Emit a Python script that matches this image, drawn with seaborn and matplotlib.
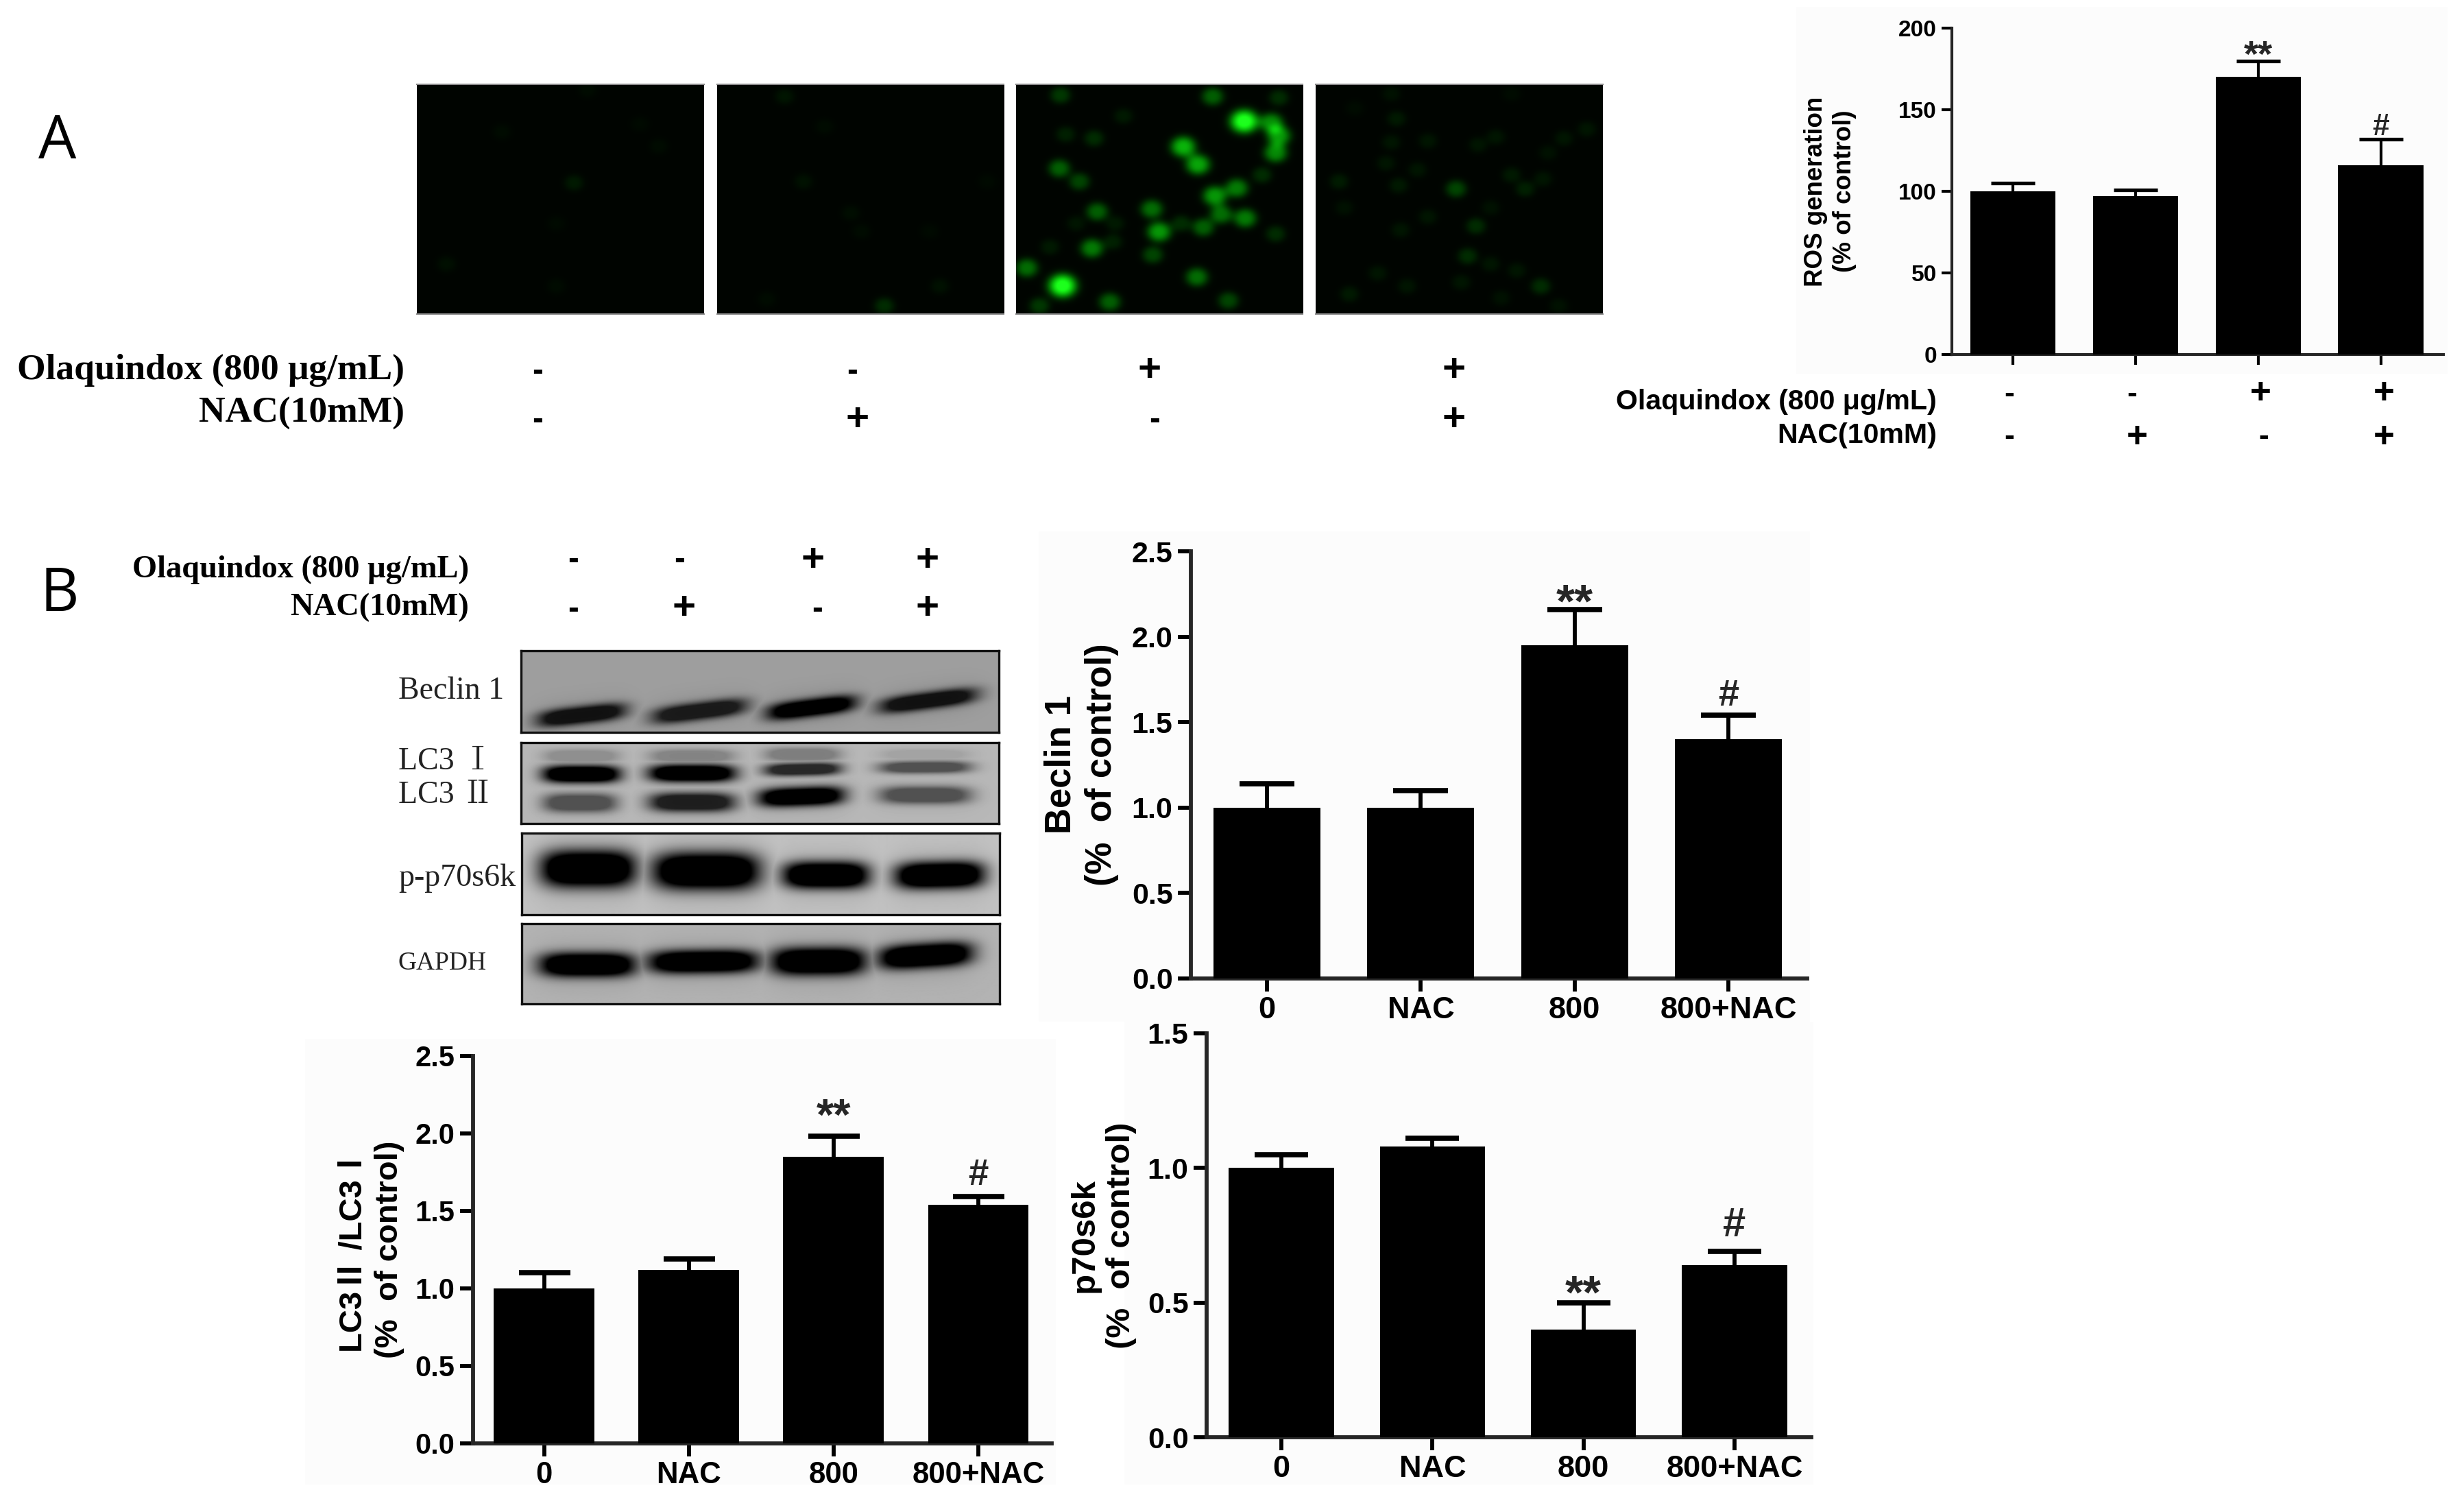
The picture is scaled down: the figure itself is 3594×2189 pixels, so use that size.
import numpy as np
import pandas as pd
import matplotlib
matplotlib.use("Agg")
import matplotlib.pyplot as plt
from matplotlib.patches import Rectangle
import seaborn as sns

# ---------- chart values ----------
categories = ["0", "NAC", "800", "800+NAC"]
ros_values = [100, 97, 170, 116]
ros_errors = [5, 4, 10, 16]
ros_marks = ["", "", "**", "#"]
beclin_values = [1.0, 1.0, 1.95, 1.40]
beclin_errors = [0.14, 0.10, 0.21, 0.14]
beclin_marks = ["", "", "**", "#"]
lc3_values = [1.0, 1.12, 1.85, 1.54]
lc3_errors = [0.10, 0.07, 0.13, 0.05]
lc3_marks = ["", "", "**", "#"]
p70_values = [1.0, 1.08, 0.40, 0.64]
p70_errors = [0.05, 0.03, 0.10, 0.05]
p70_marks = ["", "", "**", "#"]
ros_ticks = [0, 50, 100, 150, 200]
ratio_ticks = [0.0, 0.5, 1.0, 1.5, 2.0, 2.5]
p70_ticks = [0.0, 0.5, 1.0, 1.5]
olaquindox_row = ["-", "-", "+", "+"]
nac_row = ["-", "+", "-", "+"]
olaquindox_label = "Olaquindox (800 μg/mL)"
nac_label = "NAC(10mM)"

# fluorescence spots: x, y, brightness (crop units)
spots_1 = [(547,435,.12),(425,745,.07),(560,80,.05),(478,240,.05),(628,295,.05),(530,590,.04),(530,830,.05),(610,210,.04)]
spots_2 = [(747,105,.1),(765,430,.08),(842,905,.2),(785,220,.05),(810,550,.06),(895,830,.08),(730,880,.05),(820,620,.05),(885,620,.04),(940,430,.04)]
spots_3 = [(1010,100,.25),(1155,105,.4),(1218,110,.2),(1185,200,1.0),(1211,205,.55),(1218,255,.6),(1215,320,.55),
           (1127,297,.7),(1141,365,.65),(1009,380,.4),(1028,430,.3),(1157,485,.6),(1178,455,.5),(1045,545,.4),
           (1097,535,.45),(1163,555,.45),(1186,570,.5),(1146,605,.4),(1104,622,.6),(1040,685,.5),(1098,710,.3),
           (978,760,.45),(1140,795,.45),(1012,828,1.0),(1057,890,.4),(1170,885,.3),(990,905,.25),(1015,250,.15),
           (1042,265,.2),(1125,590,.2),(1060,660,.15),(1215,630,.2),(1000,680,.12),(1202,405,.2),(1070,180,.12),
           (1025,590,.1),(1062,590,.12)]
spots_4 = [(1387,458,.3),(1406,600,.2),(1398,715,.2),(1468,830,.2),(1330,190,.12),(1325,95,.08),(1275,430,.13),
           (1332,445,.12),(1453,458,.15),(1440,405,.12),(1325,280,.1),(1360,275,.1),(1408,290,.1),(1425,260,.1),
           (1490,265,.1),(1512,230,.1),(1475,320,.08),(1320,360,.1),(1350,385,.1),(1470,420,.1),(1280,530,.08),
           (1360,565,.1),(1334,615,.1),(1420,530,.08),(1420,745,.1),(1445,770,.1),(1392,815,.1),(1340,830,.1),
           (1285,860,.12),(1312,780,.1),(1430,875,.08),(1485,905,.08),(1290,150,.05),(1440,95,.05)]

# western blot bands: x0, x1, y at x0, y at x1, half thickness, darkness (crop units)
beclin_bands = [(735,885,632,600,28,.8),(930,1090,622,585,28,.75),(1125,1275,610,575,28,.95),(1315,1480,590,550,27,.8)]
lc3_bands = [(745,875,803,803,27,1.0),(925,1070,800,800,27,1.0),(1120,1250,790,785,20,.7),(1315,1470,782,780,19,.5),
             (745,870,895,895,30,.5),(925,1070,893,893,30,.75),(1110,1255,880,870,30,.95),(1315,1470,870,870,28,.5),
             (745,875,745,745,22,.2),(925,1070,745,745,22,.25),(1120,1250,740,740,22,.28),(1315,1470,740,740,18,.1)]
p70_bands = [(740,900,1105,1105,58,1.0),(930,1110,1112,1112,58,1.0),(1150,1295,1125,1125,42,1.0),(1340,1490,1128,1122,42,1.0)]
gapdh_bands = [(738,900,1410,1410,38,1.0),(922,1108,1402,1398,36,1.0),(1130,1290,1400,1398,43,1.0),(1312,1470,1390,1372,38,1.0)]

blot_labels = ["Beclin 1", "LC3 Ⅰ", "LC3 Ⅱ", "p-p70s6k", "GAPDH"]

# ---------- theme ----------
sns.set_theme(style="ticks")
plt.rcParams["font.family"] = ["Liberation Sans", "Noto Sans CJK SC", "DejaVu Sans"]
W, H = 3594, 2189
PT = 72 / 100  # points per pixel at dpi 100
fig = plt.figure(figsize=(W / 100, H / 100), dpi=100, facecolor="white")
SANS = ["Liberation Sans", "Noto Sans CJK SC"]
SERIF = ["Liberation Serif", "Noto Serif CJK SC", "Noto Sans CJK SC"]


def axes_px(l, t, r, b, **kw):
    return fig.add_axes([l / W, 1 - b / H, (r - l) / W, (b - t) / H], **kw)


bg = fig.add_axes([0, 0, 1, 1], zorder=-5)
bg.set_xlim(0, W); bg.set_ylim(H, 0); bg.axis("off")
for (x0, y0, x1, y1) in [(2620, 10, 3570, 545), (1515, 775, 2640, 1490), (445, 1515, 1540, 2165), (1640, 1490, 2645, 2165)]:
    bg.add_patch(Rectangle((x0, y0), x1 - x0, y1 - y0, color="#fcfcfc", lw=0))


def bar_panel(box, c0, c3, values, errors, marks, yticks, ymax, ylabel, label_right,
              tick_fs, label_fs, lw, tick_len, cap_half, cap_lw, stem_lw, show_x,
              star_fs, star_off, hash_fs, hash_off):
    l, t, r, b = box
    ax = axes_px(l, t, r, b, facecolor="none")
    df = pd.DataFrame({"group": categories, "value": values, "err": errors})
    sns.barplot(data=df, x="group", y="value", color="black", saturation=1, width=0.695,
                linewidth=0, ax=ax, zorder=3)
    step = (c3 - c0) / 3
    ax.set_xlim((l - c0) / step, (r - c0) / step)
    ax.set_ylim(0, ymax)
    xs = np.arange(4)
    _, caps, _ = ax.errorbar(xs, df["value"], yerr=[np.zeros(4), df["err"]], fmt="none", ecolor="black",
                             elinewidth=stem_lw, capsize=cap_half, capthick=cap_lw, zorder=2,
                             clip_on=False)
    caps[0].set_visible(False)
    for x, v, e, m in zip(xs, values, errors, marks):
        if m == "**":
            ax.annotate(m, (x, v + e), xytext=(0, star_off * PT), textcoords="offset points",
                        ha="center", va="baseline", fontsize=star_fs, fontweight="bold", family=SANS)
        elif m == "#":
            ax.annotate(m, (x, v + e), xytext=(0, hash_off * PT), textcoords="offset points",
                        ha="center", va="baseline", fontsize=hash_fs, fontweight="bold", family=SANS)
    sns.despine(ax=ax)
    for s in ("left", "bottom"):
        ax.spines[s].set_linewidth(lw)
    ax.set_yticks(yticks)
    ax.set_yticklabels([f"{v:g}" if ymax > 10 else f"{v:.1f}" for v in yticks], fontsize=tick_fs, fontweight="bold")
    ax.tick_params(axis="both", length=tick_len, width=lw, pad=5, color="black", labelcolor="black")
    ax.set_xlabel("")
    ax.set_xticks(xs)
    if show_x:
        ax.set_xticklabels(categories, fontsize=tick_fs + 1.5, fontweight="bold")
    else:
        ax.tick_params(axis="x", labelbottom=False)
    ax.set_ylabel(ylabel, fontsize=label_fs, fontweight="bold", linespacing=1.25, color="black")
    ax.yaxis.set_label_coords((label_right - l) / (r - l), 0.5)
    return ax


bar_panel((2847, 41, 3564, 517), 2936, 3472.6, ros_values, ros_errors, ros_marks, ros_ticks, 200,
          "ROS generation\n(% of control)", 2708, 24, 26.5, 3, 11, 23, 3.8, 3, False, 39, -8, 32, 6)
bar_panel((1737, 804, 2636, 1427), 1848, 2521, beclin_values, beclin_errors, beclin_marks, ratio_ticks, 2.5,
          "Beclin 1\n(%  of control)", 1632, 31, 38, 4.2, 14, 29, 5.5, 4.2, True, 50, -11, 39, 14)
bar_panel((690, 1539.5, 1534, 2105), 793.5, 1427, lc3_values, lc3_errors, lc3_marks, ratio_ticks, 2.5,
          "LC3Ⅱ /LC3Ⅰ\n(%  of control)", 590, 30, 34, 4.2, 14, 27, 5.5, 4.2, True, 47, 9, 38, 17)
bar_panel((1760, 1507, 2642, 2096), 1869, 2530, p70_values, p70_errors, p70_marks, p70_ticks, 1.5,
          "p70s6k\n(%  of control)", 1658, 31, 35.5, 4.2, 14, 28, 5.5, 4.2, True, 49, -8, 43, 22)


# ---------- micrographs ----------
def micrograph(box, crop_x, spots):
    l, t, r, b = box
    ax = axes_px(l, t, r, b)
    w, h = int(r - l), int(b - t)
    X, Y = np.meshgrid(np.linspace(crop_x[0], crop_x[1], w), np.linspace(60, 935, h))
    g = np.zeros((h, w))
    for sx, sy, br in spots:
        scale = 1.0 + 0.55 * br
        d2 = ((X - sx) / (9 * scale)) ** 2 + ((Y - sy) / (30 * scale)) ** 2
        g += br * np.exp(-d2 ** 1.4)
    g = np.clip(g, 0, 1)
    img = np.dstack([0.12 * g ** 3, np.clip(0.018 + 1.05 * g ** 1.2, 0, 1), 0.12 * g ** 3])
    ax.imshow(img, aspect="auto", interpolation="bilinear")
    ax.set_xticks([]); ax.set_yticks([])
    for s in ("left", "right"):
        ax.spines[s].set_visible(False)
    for s in ("top", "bottom"):
        ax.spines[s].set_color("#8a8a8a"); ax.spines[s].set_linewidth(1.5)


micrograph((608, 123, 1027, 458), (397, 671), spots_1)
micrograph((1046, 123, 1464, 458), (683, 956), spots_2)
micrograph((1482, 123, 1900, 458), (968, 1241), spots_3)
micrograph((1919, 123, 2338, 458), (1253, 1527), spots_4)


# ---------- blots ----------
def blot(box, crop_y, bands, base):
    l, t, r, b = box
    ax = axes_px(l, t, r, b)
    w, h = int(r - l), int(b - t)
    X, Y = np.meshgrid(np.linspace(708, 1517, w), np.linspace(crop_y[0], crop_y[1], h))
    dark = np.zeros((h, w))
    for x0, x1, y0, y1, th, d in bands:
        xc, hw = (x0 + x1) / 2, (x1 - x0) / 2
        yc = y0 + (y1 - y0) * (X - x0) / (x1 - x0)
        core = np.exp(-np.abs((X - xc) / hw) ** 4 - np.abs((Y - yc) / th) ** 2.5)
        halo = np.exp(-np.abs((X - xc) / (hw * 1.12)) ** 4 - np.abs((Y - yc) / (th * 2.0)) ** 2)
        dark = np.maximum(dark, np.clip(1.5 * d * core, 0, d) + 0.12 * d * halo)
    img = base * (1 - np.clip(dark, 0, 1))
    ax.imshow(img, cmap="gray", vmin=0, vmax=1, aspect="auto", interpolation="bilinear")
    ax.set_xticks([]); ax.set_yticks([])
    for s in ax.spines.values():
        s.set_color("#111111"); s.set_linewidth(2.4)


blot((760, 949, 1457, 1068), (412, 670), beclin_bands, 0.62)
blot((760, 1083, 1457, 1201), (703, 960), lc3_bands, 0.72)
blot((761, 1215, 1458, 1334), (992, 1250), p70_bands, 0.76)
blot((761, 1347, 1458, 1464), (1278, 1533), gapdh_bands, 0.70)

# ---------- figure text ----------
ov = fig.add_axes([0, 0, 1, 1], zorder=10, facecolor="none")
ov.set_xlim(0, W); ov.set_ylim(H, 0); ov.axis("off")


def sign(x, y, s, fs):
    em = fs / PT
    off = 0.34 * em if s == "+" else 0.26 * em
    ov.text(x, y + off, s, ha="center", va="baseline", fontsize=fs, fontweight="bold", family=SANS, color="black")


def sign_rows(xs1, y1p, y1m, xs2, y2p, y2m, plus_fs, minus_fs):
    for x, s in zip(xs1, olaquindox_row):
        sign(x, y1p if s == "+" else y1m, s, plus_fs if s == "+" else minus_fs)
    for x, s in zip(xs2, nac_row):
        sign(x, y2p if s == "+" else y2m, s, plus_fs if s == "+" else minus_fs)


ov.text(84, 208, "A", ha="center", va="center", fontsize=63, family=["Open Sans"], color="black")
ov.text(87, 868, "B", ha="center", va="center", fontsize=63, family=["Open Sans"], color="black")

ov.text(590, 540, olaquindox_label, ha="right", va="center", fontsize=38.5, fontweight="bold", family=SERIF, color="black")
ov.text(590, 603, nac_label, ha="right", va="center", fontsize=38.5, fontweight="bold", family=SERIF, color="black")
sign_rows([784, 1243, 1677, 2121], 536, 542, [784, 1251, 1684, 2121], 608, 613, 42, 34)

ov.text(2825, 586, olaquindox_label, ha="right", va="center", fontsize=29.6, fontweight="bold", family=SANS, color="black")
ov.text(2825, 635, nac_label, ha="right", va="center", fontsize=29.6, fontweight="bold", family=SANS, color="black")
sign_rows([2931, 3110, 3297, 3477], 570, 575, [2931, 3117, 3302, 3477], 634, 637, 38, 32)

ov.text(684, 831, olaquindox_label, ha="right", va="center", fontsize=33.5, fontweight="bold", family=SERIF, color="black")
ov.text(684, 886, nac_label, ha="right", va="center", fontsize=33.5, fontweight="bold", family=SERIF, color="black")
sign_rows([836, 991, 1186, 1353], 813, 817, [836, 998, 1192, 1353], 883, 889, 42, 34)

for label, y, fs in zip(blot_labels, [1008, 1111, 1160, 1281, 1405], [33, 33, 33, 33, 27]):
    ov.text(581, y, label, ha="left", va="center", fontsize=fs, family=SERIF, color="#222222")

fig.savefig("out.png", dpi=100, facecolor="white")
